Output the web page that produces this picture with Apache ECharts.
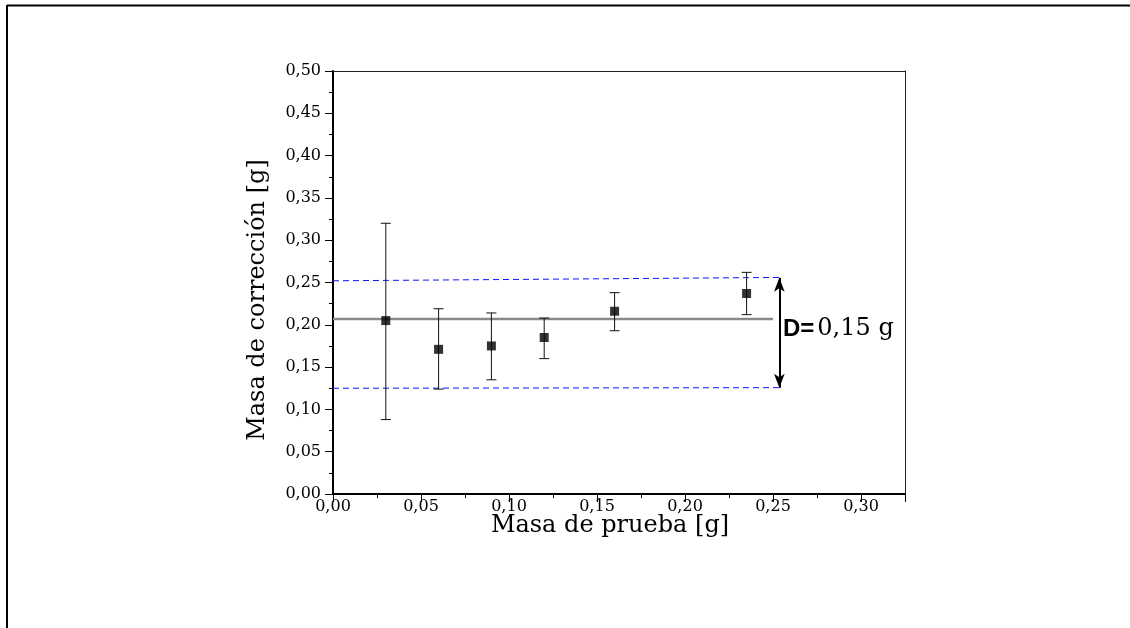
<!DOCTYPE html>
<html>
<head>
<meta charset="utf-8">
<style>
  html, body { margin: 0; padding: 0; background: #fff; }
  #chart { width: 1130px; height: 628px; }
</style>
<script src="https://cdn.jsdelivr.net/npm/echarts@6/dist/echarts.min.js"></script>
</head>
<body>
<div id="chart"></div>
<script>
// Test mass (x) and correction mass (y) with error bar limits
const masaPrueba = [0.03, 0.06, 0.09, 0.12, 0.16, 0.235];
const masaCorreccion = [0.205, 0.171, 0.175, 0.185, 0.216, 0.237];
const errorInferior = [0.088, 0.124, 0.135, 0.160, 0.193, 0.212];
const errorSuperior = [0.320, 0.219, 0.214, 0.208, 0.238, 0.262];

// Mean level and the upper / lower dashed band lines
const lineaMedia = [[0, 0.207], [0.25, 0.207]];
const bandaSuperior = [[0, 0.252], [0.255, 0.256]];
const bandaInferior = [[0, 0.125], [0.255, 0.1257]];
const flechaX = 0.2536;
const flechaExtremos = [0.2557, 0.1257];

const tituloX = 'Masa de prueba [g]';
const tituloY = 'Masa de corrección [g]';
const etiquetaD = 'D=';
const etiquetaValor = '0,15 g';

const serif = '"DejaVu Serif", serif';
const fmt = v => v.toFixed(2).replace('.', ',');

const chart = echarts.init(document.getElementById('chart'), null, { renderer: 'canvas' });

const errorData = masaPrueba.map((x, i) => [x, errorInferior[i], errorSuperior[i]]);
const puntos = masaPrueba.map((x, i) => [x, masaCorreccion[i]]);

const axisCommon = {
  type: 'value',
  axisLine: { show: true, onZero: false, lineStyle: { color: '#000', width: 2 } },
  axisTick: { show: true, inside: false, length: 8, lineStyle: { color: '#000', width: 1 } },
  minorTick: { show: true, splitNumber: 2, length: 4, lineStyle: { color: '#000', width: 1 } },
  splitLine: { show: false },
  axisLabel: { color: '#000', fontFamily: serif, fontSize: 16, formatter: fmt }
};

const option = {
  animation: false,
  backgroundColor: '#fff',
  grid: { left: 333, right: 225, top: 71, bottom: 134, containLabel: false },
  xAxis: [
    Object.assign({}, axisCommon, {
      min: 0, max: 0.325, interval: 0.05,
      axisLabel: Object.assign({}, axisCommon.axisLabel, { margin: 5,
        formatter: v => (v > 0.31 ? '' : fmt(v)) })
    }),
    {
      type: 'value', position: 'top', min: 0, max: 0.325,
      axisLine: { show: true, onZero: false, lineStyle: { color: '#222', width: 1 } },
      axisTick: { show: false }, axisLabel: { show: false }, splitLine: { show: false }
    }
  ],
  yAxis: [
    Object.assign({}, axisCommon, {
      min: 0, max: 0.5, interval: 0.05,
      axisLabel: Object.assign({}, axisCommon.axisLabel, { margin: 12 })
    }),
    {
      type: 'value', position: 'right', min: 0, max: 0.5,
      axisLine: { show: true, onZero: false, lineStyle: { color: '#222', width: 1 } },
      axisTick: { show: false }, axisLabel: { show: false }, splitLine: { show: false }
    }
  ],
  series: [
    {
      name: 'banda superior', type: 'line', data: bandaSuperior, symbol: 'none',
      lineStyle: { color: '#1010ff', width: 1, type: [6, 4] }, z: 2
    },
    {
      name: 'banda inferior', type: 'line', data: bandaInferior, symbol: 'none',
      lineStyle: { color: '#1010ff', width: 1, type: [6, 4] }, z: 2
    },
    {
      name: 'media', type: 'line', data: lineaMedia, symbol: 'none',
      lineStyle: { color: '#8a8a8a', width: 2.5 }, z: 3
    },
    {
      name: 'error', type: 'custom', z: 4,
      data: errorData,
      renderItem: function (params, api) {
        const x = api.value(0);
        const lo = api.coord([x, api.value(1)]);
        const hi = api.coord([x, api.value(2)]);
        const hw = 5;
        const style = { stroke: '#111', lineWidth: 1, fill: null };
        return {
          type: 'group',
          children: [
            { type: 'line', shape: { x1: lo[0], y1: lo[1], x2: hi[0], y2: hi[1] }, style: style },
            { type: 'line', shape: { x1: lo[0] - hw, y1: lo[1], x2: lo[0] + hw, y2: lo[1] }, style: style },
            { type: 'line', shape: { x1: hi[0] - hw, y1: hi[1], x2: hi[0] + hw, y2: hi[1] }, style: style }
          ]
        };
      }
    },
    {
      name: 'puntos', type: 'scatter', data: puntos, symbol: 'rect', symbolSize: 9,
      itemStyle: { color: '#000' }, z: 5
    },
    {
      name: 'flecha', type: 'line', data: [], symbol: 'none',
      markLine: {
        silent: true, symbol: ['arrow', 'arrow'], symbolSize: [8, 14],
        lineStyle: { color: '#000', width: 2, type: 'solid' },
        label: { show: false },
        data: [[
          { coord: [flechaX, flechaExtremos[0]] },
          { coord: [flechaX, flechaExtremos[1]] }
        ]]
      }
    }
  ],
  graphic: [
    // outer frame (top and left edges)
    { type: 'line', shape: { x1: 7, y1: 5.5, x2: 1130, y2: 5.5 }, style: { stroke: '#000', lineWidth: 2 } },
    { type: 'line', shape: { x1: 7, y1: 5, x2: 7, y2: 628 }, style: { stroke: '#000', lineWidth: 2 } },
    {
      type: 'text', x: 610, y: 526,
      style: { text: tituloX, font: '24px ' + serif, fill: '#000', align: 'center', verticalAlign: 'middle' }
    },
    {
      type: 'text', x: 258, y: 300, rotation: Math.PI / 2,
      style: { text: tituloY, font: '24px ' + serif, fill: '#000', align: 'center', verticalAlign: 'middle' }
    },
    {
      type: 'text', x: 783, y: 329,
      style: {
        text: '{b|' + etiquetaD + '}{n|' + etiquetaValor + '}',
        verticalAlign: 'middle',
        rich: {
          b: { font: 'bold 24px "Liberation Sans", Arial, sans-serif', fill: '#000', padding: [0, 3, 0, 0] },
          n: { font: '24px ' + serif, fill: '#000' }
        }
      }
    }
  ]
};

chart.setOption(option);
</script>
</body>
</html>
